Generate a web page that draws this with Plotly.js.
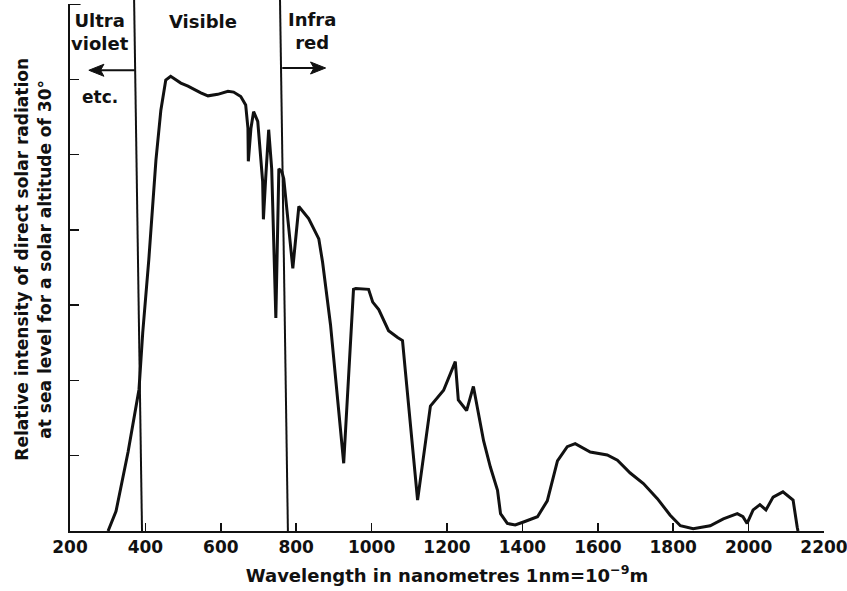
<!DOCTYPE html>
<html>
<head>
<meta charset="utf-8">
<script src="https://cdn.plot.ly/plotly-3.0.1.min.js"></script>
<style>html,body{margin:0;padding:0;background:#fff;}#chart{width:847px;height:591px;}</style>
</head>
<body>
<div id="chart"></div>
<script>
// Wavelength (nm) and relative intensity
const wavelength = [301,322,354,383,393,409,428,441,454,467,494,513,547,566,592,619,634,653,666,672,673,680,687,698,711,713,719,727,735,746,754,762,767,791,807,833,860,870,891,926,952,958,992,1003,1019,1045,1069,1082,1090,1122,1156,1169,1191,1222,1230,1252,1270,1297,1315,1334,1342,1360,1381,1403,1440,1466,1493,1519,1540,1580,1625,1652,1686,1721,1758,1792,1819,1853,1898,1933,1970,1985,1996,2012,2030,2046,2065,2091,2118,2129,2131];
const intensity = [0,0.26,1.05,1.88,2.64,3.60,4.93,5.59,5.99,6.04,5.95,5.91,5.82,5.78,5.80,5.84,5.83,5.77,5.66,5.35,4.91,5.35,5.57,5.44,4.64,4.14,4.68,5.33,4.81,2.83,4.81,4.77,4.68,3.49,4.31,4.15,3.88,3.57,2.74,0.90,3.21,3.22,3.21,3.04,2.94,2.66,2.57,2.53,2.10,0.41,1.66,1.74,1.87,2.25,1.74,1.60,1.92,1.20,0.85,0.54,0.23,0.10,0.08,0.12,0.19,0.40,0.93,1.12,1.16,1.05,1.01,0.94,0.77,0.63,0.43,0.21,0.07,0.03,0.07,0.16,0.23,0.19,0.10,0.28,0.35,0.28,0.45,0.52,0.41,0.05,0];
const xTicks = [200,400,600,800,1000,1200,1400,1600,1800,2000,2200];
const yTicks = [1,2,3,4,5,6];
const regionLabels = ["Ultra<br>violet", "etc.", "Visible", "Infra<br>red"];

const ink = '#111111';
const font = 'DejaVu Sans, Liberation Sans, Arial, sans-serif';
const bold = (size) => ({family: font, size: size, color: ink, weight: 'bold'});

const trace = {
  x: wavelength, y: intensity, type: 'scatter', mode: 'lines',
  line: {color: ink, width: 3}, hoverinfo: 'skip', showlegend: false
};

const layout = {
  width: 847, height: 591,
  margin: {l: 70, r: 23, t: 4, b: 60},
  paper_bgcolor: '#fff', plot_bgcolor: '#fff',
  font: {family: font, color: ink, size: 18},
  showlegend: false,
  xaxis: {
    range: [200, 2200], tickvals: xTicks, ticktext: xTicks.map(String),
    ticks: 'inside', ticklen: 8, tickwidth: 1.5, tickcolor: ink,
    showline: true, linecolor: ink, linewidth: 2, showgrid: false, zeroline: false,
    tickfont: bold(17), ticklabeloverflow: 'allow',
    title: {text: 'Wavelength in nanometres 1nm=10<sup>−9</sup>m', font: bold(18), standoff: 13}
  },
  yaxis: {
    range: [0, 7], tickvals: yTicks, showticklabels: false,
    ticks: 'inside', ticklen: 9, tickwidth: 1.5, tickcolor: ink,
    showline: true, linecolor: ink, linewidth: 2, showgrid: false, zeroline: false
  },
  shapes: [
    // region boundaries
    {type: 'line', xref: 'x', yref: 'paper', x0: 370, y0: 1.01, x1: 391, y1: 0, line: {color: ink, width: 2}},
    {type: 'line', xref: 'x', yref: 'paper', x0: 757, y0: 1.01, x1: 778, y1: 0, line: {color: ink, width: 2}},
    // top serif of the y axis
    {type: 'line', xref: 'x', yref: 'y', x0: 200, y0: 7, x1: 228, y1: 7, line: {color: ink, width: 2}},
    // left arrow (ultraviolet)
    {type: 'line', xref: 'x', yref: 'y', x0: 372, y0: 6.12, x1: 270, y1: 6.12, line: {color: ink, width: 2}},
    {type: 'path', xref: 'x', yref: 'y', path: 'M 250 6.12 L 290 6.2 L 281 6.12 L 290 6.04 Z', fillcolor: ink, line: {color: ink, width: 1}},
    // right arrow (infrared)
    {type: 'line', xref: 'x', yref: 'y', x0: 763, y0: 6.15, x1: 860, y1: 6.15, line: {color: ink, width: 2}},
    {type: 'path', xref: 'x', yref: 'y', path: 'M 878 6.15 L 838 6.23 L 847 6.15 L 838 6.07 Z', fillcolor: ink, line: {color: ink, width: 1}}
  ],
  annotations: [
    {xref: 'paper', yref: 'paper', x: -0.049, y: 0.515, textangle: -90, showarrow: false,
     text: 'Relative intensity of direct solar radiation<br>at sea level for a solar altitude of 30°',
     font: bold(17), xanchor: 'center', yanchor: 'middle'},
    {x: 280, y: 6.63, xref: 'x', yref: 'y', text: regionLabels[0], showarrow: false, font: bold(18)},
    {x: 280, y: 5.76, xref: 'x', yref: 'y', text: regionLabels[1], showarrow: false, font: bold(17)},
    {x: 553, y: 6.77, xref: 'x', yref: 'y', text: regionLabels[2], showarrow: false, font: bold(18)},
    {x: 843, y: 6.64, xref: 'x', yref: 'y', text: regionLabels[3], showarrow: false, font: bold(18)}
  ]
};

Plotly.newPlot('chart', [trace], layout, {displayModeBar: false, staticPlot: true});
</script>
</body>
</html>
